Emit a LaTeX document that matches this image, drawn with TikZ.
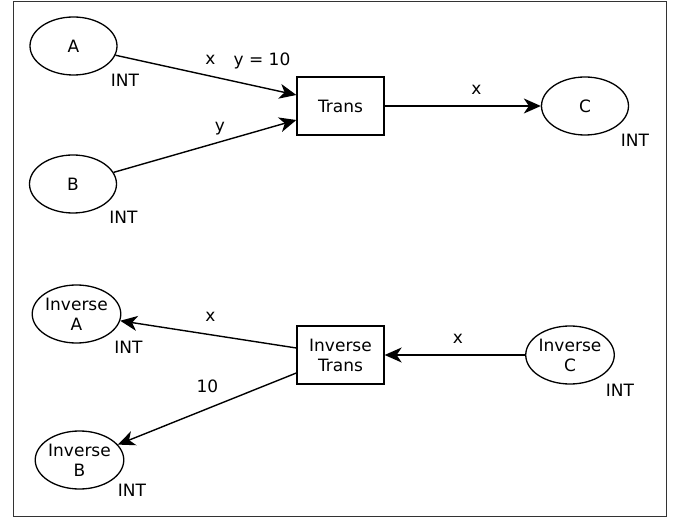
\documentclass[tikz,border=0pt]{standalone}
\usepackage{fontspec}
\setmainfont{DejaVu Sans}
\usetikzlibrary{arrows.meta, shapes.geometric}
\tikzset{
  place/.style = {draw, ellipse, line width=1.3pt, minimum width=87pt,
                  minimum height=58pt, inner sep=0pt, align=center},
  trans/.style = {draw, rectangle, line width=1.3pt, minimum width=87pt,
                  minimum height=58pt, inner sep=0pt, align=center},
  arc/.style   = {-{Stealth[length=17pt, width=15pt, inset=5pt]}, line width=1.4pt},
  lbl/.style   = {inner sep=0pt, anchor=base},
}

\begin{document}
\begin{tikzpicture}[x=1pt, y=-1pt, font=\fontsize{17}{20}\selectfont]
    \useasboundingbox (0,0) rectangle (677,518);
    \draw[black!80, line width=1pt] (13,1.5) rectangle (666,516);

    % forward net
    \node[place] (A) at (73.5,46) {A};
    \node[place] (B) at (73,184) {B};
    \node[trans] (tr) at (340.5,106) {Trans};
    \node[place] (C) at (585,106) {C};
    \node[lbl] (tyA) at (125,87) {INT};
    \node[lbl] (tyB) at (123.5,224) {INT};
    \node[lbl] (tyC) at (635,147) {INT};

    \draw[arc] (A) -- ([yshift=11pt]tr.west);
    \draw[arc] (B) -- ([yshift=-14pt]tr.west);
    \draw[arc] (tr) -- (C);
    \node[lbl] (ax) at (210.5,65) {x};
    \node[lbl] (grd) at (262,66) {y = 10};
    \node[lbl] (ay) at (220,132) {y};
    \node[lbl] (cx) at (476.5,95) {x};

    % inverse net
    \node[place] (iA) at (76.5,314) {Inverse\\A};
    \node[place] (iB) at (79.5,460) {Inverse\\B};
    \node[trans] (itr) at (340.5,355) {Inverse\\Trans};
    \node[place] (iC) at (570,355) {Inverse\\C};
    \node[lbl] (tyiA) at (128.5,353) {INT};
    \node[lbl] (tyiB) at (132,496) {INT};
    \node[lbl] (tyiC) at (620,396) {INT};

    \draw[arc] (iC) -- (itr);
    \draw[arc] ([yshift=7pt]itr.west) -- (iA);
    \draw[arc] ([yshift=-18pt]itr.west) -- (iB);
    \node[lbl] (icx) at (458,344) {x};
    \node[lbl] (iax) at (210.5,322) {x};
    \node[lbl] (ib10) at (207.5,392) {10};
\end{tikzpicture}
\end{document}
